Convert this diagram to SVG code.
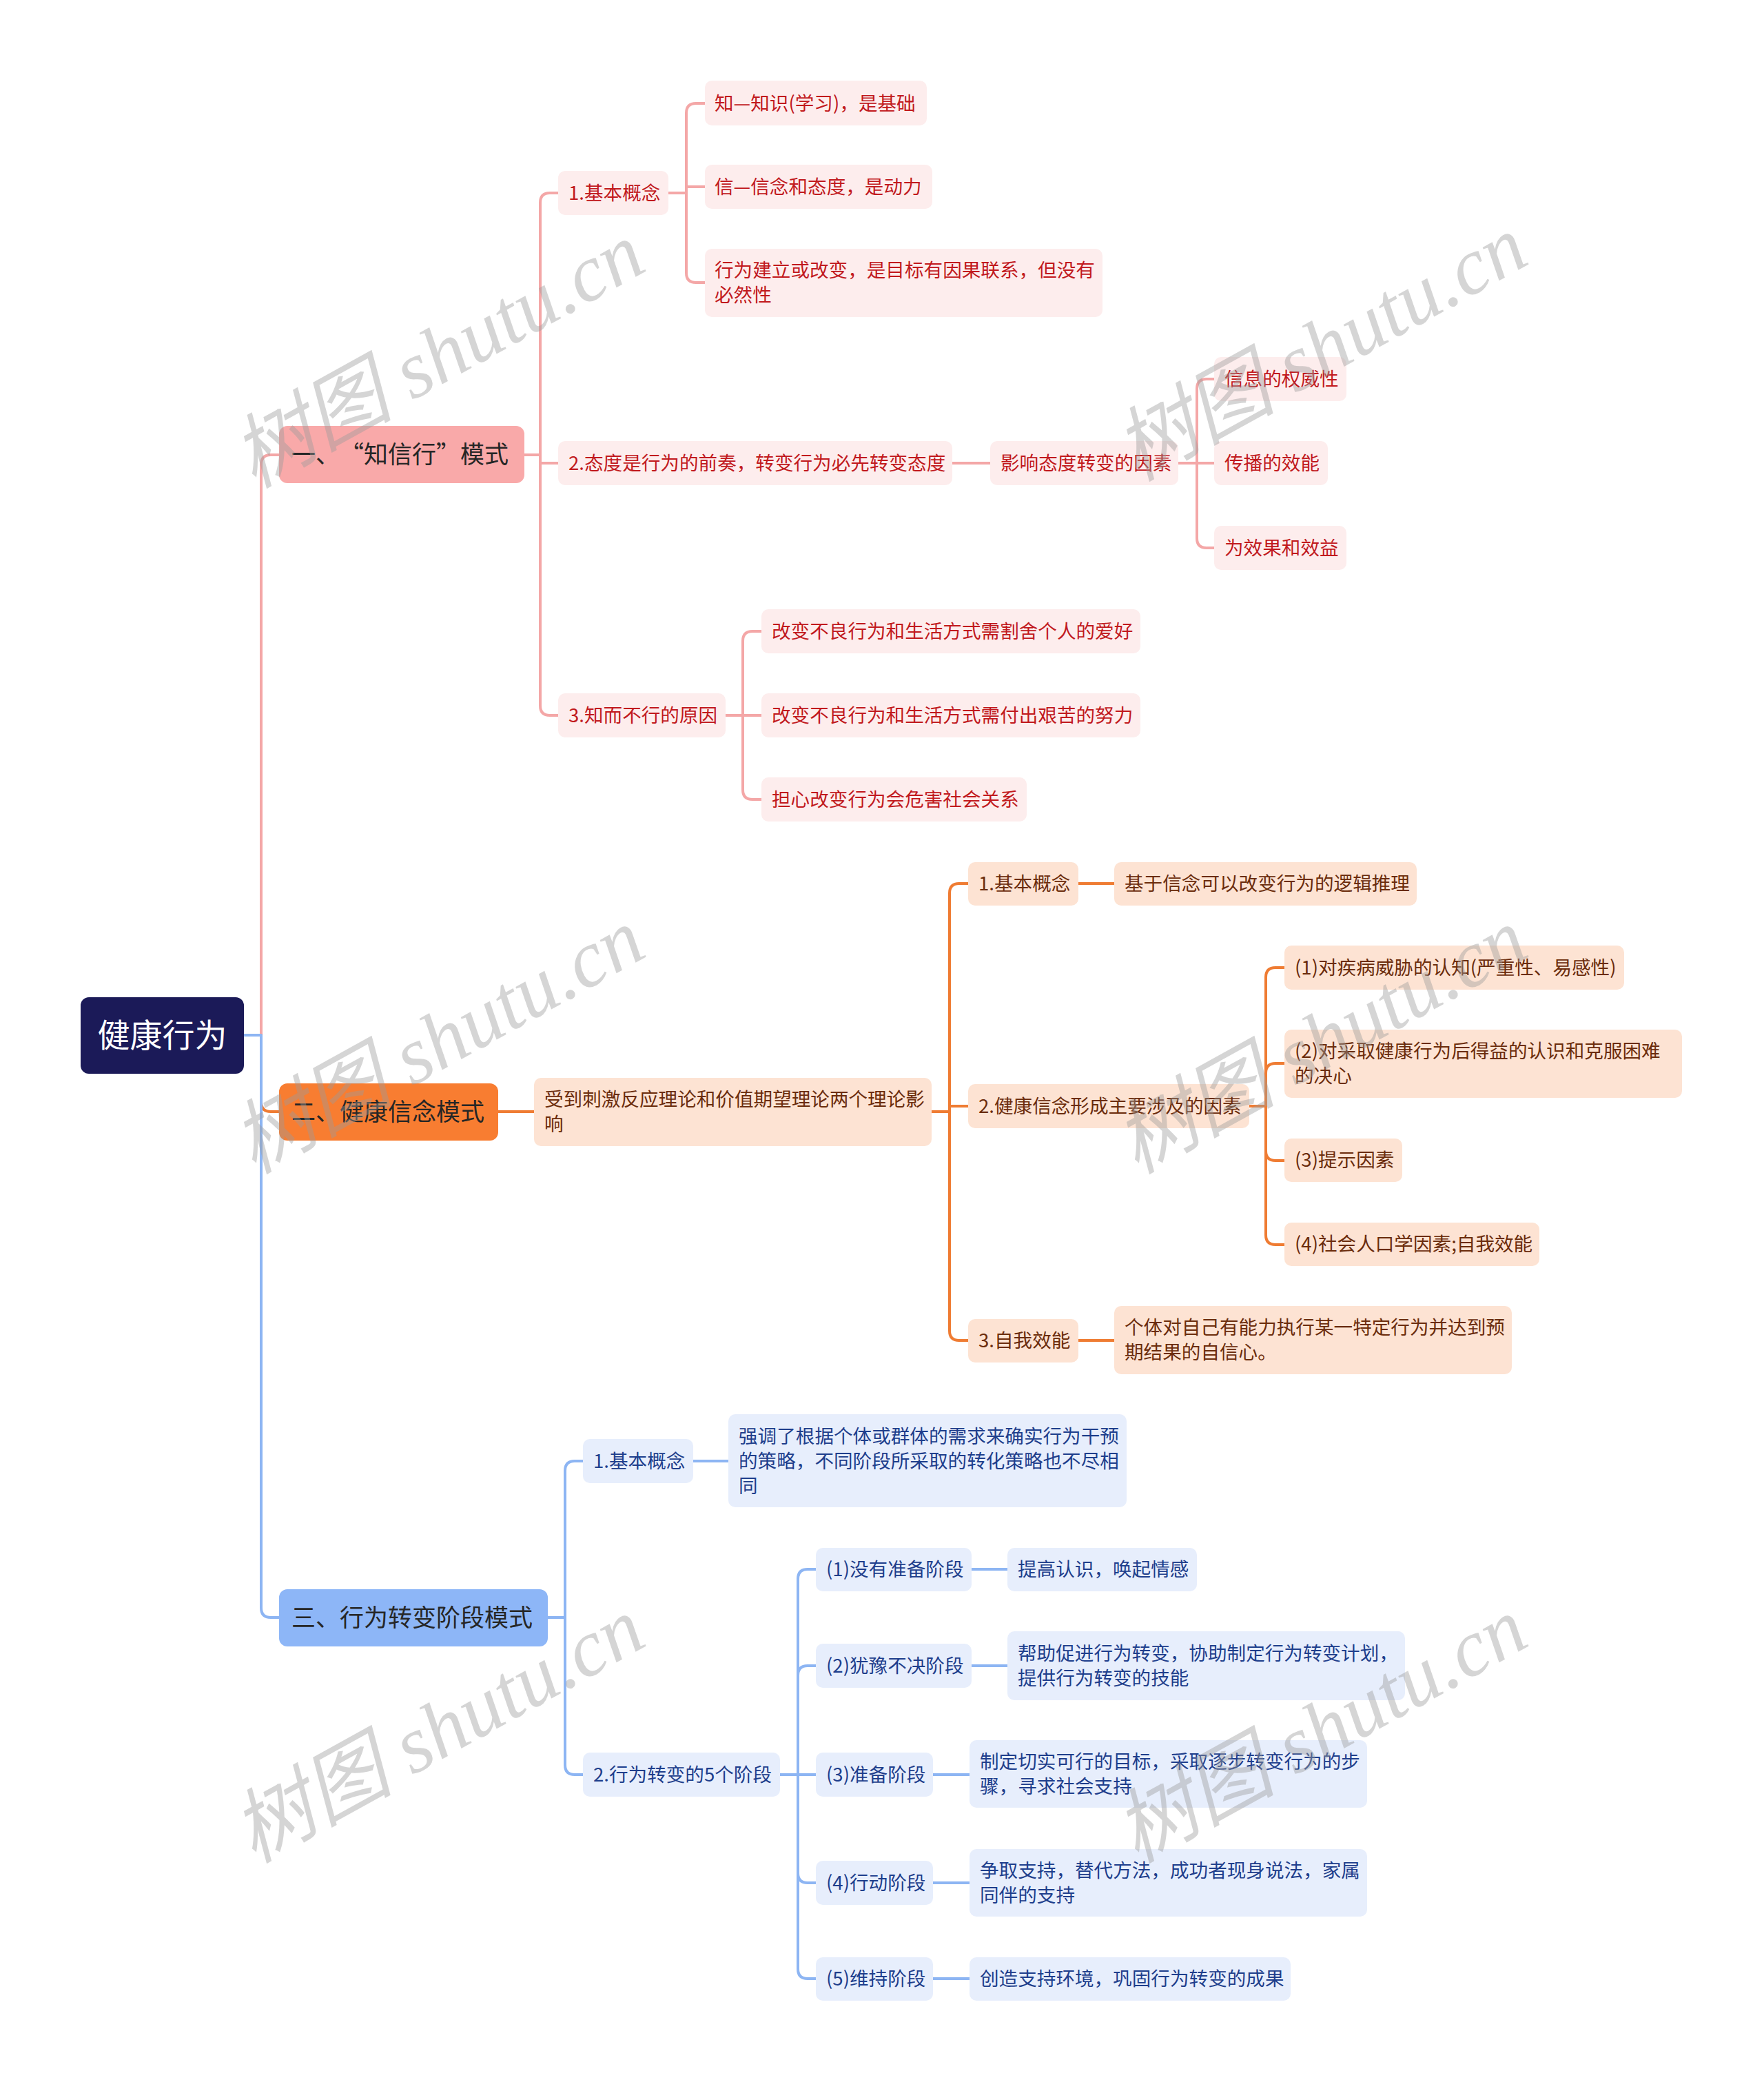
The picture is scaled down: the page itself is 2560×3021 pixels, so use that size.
<svg xmlns="http://www.w3.org/2000/svg" width="2560" height="3021" viewBox="0 0 2560 3021">
<style>
text{font-family:"Noto Sans CJK SC","Noto Sans",sans-serif;}
.t{font-size:27.6px;}
.l1{font-size:35px;fill:#262626;}
.root{font-size:47px;fill:#ffffff;}
.pk rect{fill:#fdeded;}
.pk text{fill:#c1191d;}
.or rect{fill:#fde3d3;}
.or text{fill:#6b2c0c;}
.bl rect{fill:#e7eefc;}
.bl text{fill:#1e3e8c;}
.c{fill:none;stroke-width:4;stroke-linecap:round;stroke-linejoin:round;}
.cp{stroke:#f4a7a7;}
.co{stroke:#ef7c33;}
.cb{stroke:#8db5f3;}
.wm{font-family:"Liberation Serif","Noto Sans CJK SC",serif;font-style:italic;font-size:117px;fill:#9a9a9a;fill-opacity:0.42;}
</style>
<rect x="0" y="0" width="2560" height="3021" fill="#ffffff"/>

<g id="connectors">
  <path class="c cp" d="M354,1502 H379 V674 Q379,660 393,660 H405"/>
  <path class="c cp" d="M761,660 H784 V294 Q784,280 798,280 H810"/>
  <path class="c cp" d="M784,660 V672 H810"/>
  <path class="c cp" d="M784,660 V1024 Q784,1038 798,1038 H810"/>
  <path class="c cp" d="M970,280 H996 V164 Q996,150 1010,150 H1023"/>
  <path class="c cp" d="M996,280 V271 H1023"/>
  <path class="c cp" d="M996,280 V396 Q996,410 1010,410 H1023"/>
  <path class="c cp" d="M1382,672 H1437"/>
  <path class="c cp" d="M1710,672 H1737 V564 Q1737,550 1751,550 H1762"/>
  <path class="c cp" d="M1737,672 H1762"/>
  <path class="c cp" d="M1737,672 V781 Q1737,795 1751,795 H1762"/>
  <path class="c cp" d="M1053,1038 H1078 V930 Q1078,916 1092,916 H1105"/>
  <path class="c cp" d="M1078,1038 H1105"/>
  <path class="c cp" d="M1078,1038 V1146 Q1078,1160 1092,1160 H1105"/>
  <path class="c co" d="M379,1502 V1599 Q379,1613 393,1613 H405"/>
  <path class="c co" d="M723,1613 H775"/>
  <path class="c co" d="M1352,1613 H1378 V1296 Q1378,1282 1392,1282 H1405"/>
  <path class="c co" d="M1378,1613 V1605 H1405"/>
  <path class="c co" d="M1378,1613 V1931 Q1378,1945 1392,1945 H1405"/>
  <path class="c co" d="M1565,1282 H1617"/>
  <path class="c co" d="M1565,1945 H1617"/>
  <path class="c co" d="M1813,1605 H1837 V1418 Q1837,1404 1851,1404 H1864"/>
  <path class="c co" d="M1837,1605 V1557 Q1837,1543 1851,1543 H1864"/>
  <path class="c co" d="M1837,1605 V1670 Q1837,1684 1851,1684 H1864"/>
  <path class="c co" d="M1837,1605 V1792 Q1837,1806 1851,1806 H1864"/>
  <path class="c cb" d="M354,1502 H379 V2333 Q379,2347 393,2347 H405"/>
  <path class="c cb" d="M795,2347 H820 V2134 Q820,2120 834,2120 H846"/>
  <path class="c cb" d="M820,2347 V2561 Q820,2575 834,2575 H846"/>
  <path class="c cb" d="M1006,2120 H1057"/>
  <path class="c cb" d="M1132,2575 H1158 V2291 Q1158,2277 1172,2277 H1184"/>
  <path class="c cb" d="M1158,2575 V2431 Q1158,2417 1172,2417 H1184"/>
  <path class="c cb" d="M1158,2575 H1184"/>
  <path class="c cb" d="M1158,2575 V2718 Q1158,2732 1172,2732 H1184"/>
  <path class="c cb" d="M1158,2575 V2857 Q1158,2871 1172,2871 H1184"/>
  <path class="c cb" d="M1410,2277 H1462"/>
  <path class="c cb" d="M1410,2417 H1462"/>
  <path class="c cb" d="M1354,2575 H1407"/>
  <path class="c cb" d="M1354,2732 H1407"/>
  <path class="c cb" d="M1354,2871 H1407"/>
</g>

<g id="root">
  <rect x="117" y="1447" width="237" height="111" rx="12" fill="#1b1a58"/>
  <text class="root" x="235.5" y="1519" text-anchor="middle">健康行为</text>
</g>

<g id="n1">
  <rect x="405" y="618" width="356" height="83" rx="12" fill="#f9a9a9"/>
  <text class="l1" y="672"><tspan x="423">一、</tspan><tspan x="493">“</tspan><tspan x="528">知信行</tspan><tspan x="633">”</tspan><tspan x="668">模式</tspan></text>
</g>
<g class="pk">
  <g id="p1"><rect x="810" y="248" width="160" height="64" rx="10"/><text class="t" x="825" y="290">1.基本概念</text></g>
  <g id="p1a"><rect x="1023" y="117" width="322" height="65" rx="10"/><text class="t" x="1037" y="160">知—知识(学习)，是基础</text></g>
  <g id="p1b"><rect x="1023" y="239" width="330" height="64" rx="10"/><text class="t" x="1037" y="281">信—信念和态度，是动力</text></g>
  <g id="p1c"><rect x="1023" y="361" width="577" height="99" rx="10"/><text class="t" x="1037" y="402">行为建立或改变，是目标有因果联系，但没有</text><text class="t" x="1037" y="438">必然性</text></g>
  <g id="p2"><rect x="810" y="640" width="572" height="64" rx="10"/><text class="t" x="825" y="682">2.态度是行为的前奏，转变行为必先转变态度</text></g>
  <g id="p2a"><rect x="1437" y="640" width="273" height="64" rx="10"/><text class="t" x="1452" y="682">影响态度转变的因素</text></g>
  <g id="p2a1"><rect x="1762" y="518" width="192" height="64" rx="10"/><text class="t" x="1777" y="560">信息的权威性</text></g>
  <g id="p2a2"><rect x="1762" y="640" width="165" height="64" rx="10"/><text class="t" x="1777" y="682">传播的效能</text></g>
  <g id="p2a3"><rect x="1762" y="763" width="192" height="64" rx="10"/><text class="t" x="1777" y="805">为效果和效益</text></g>
  <g id="p3"><rect x="810" y="1006" width="243" height="64" rx="10"/><text class="t" x="825" y="1048">3.知而不行的原因</text></g>
  <g id="p3a"><rect x="1105" y="884" width="550" height="64" rx="10"/><text class="t" x="1120" y="926">改变不良行为和生活方式需割舍个人的爱好</text></g>
  <g id="p3b"><rect x="1105" y="1006" width="550" height="64" rx="10"/><text class="t" x="1120" y="1048">改变不良行为和生活方式需付出艰苦的努力</text></g>
  <g id="p3c"><rect x="1105" y="1128" width="385" height="64" rx="10"/><text class="t" x="1120" y="1170">担心改变行为会危害社会关系</text></g>
</g>

<g id="n2">
  <rect x="405" y="1572" width="318" height="83" rx="12" fill="#f87d31"/>
  <text class="l1" x="423" y="1626">二、健康信念模式</text>
</g>
<g class="or">
  <g id="q1"><rect x="775" y="1564" width="577" height="99" rx="10"/><text class="t" x="790" y="1605">受到刺激反应理论和价值期望理论两个理论影</text><text class="t" x="790" y="1641">响</text></g>
  <g id="q1a"><rect x="1405" y="1251" width="160" height="63" rx="10"/><text class="t" x="1420" y="1292">1.基本概念</text></g>
  <g id="q1a1"><rect x="1617" y="1251" width="439" height="63" rx="10"/><text class="t" x="1632" y="1292">基于信念可以改变行为的逻辑推理</text></g>
  <g id="q1b"><rect x="1405" y="1573" width="408" height="64" rx="10"/><text class="t" x="1420" y="1615">2.健康信念形成主要涉及的因素</text></g>
  <g id="q1b1"><rect x="1864" y="1372" width="493" height="64" rx="10"/><text class="t" x="1879" y="1414">(1)对疾病威胁的认知(严重性、易感性)</text></g>
  <g id="q1b2"><rect x="1864" y="1494" width="577" height="99" rx="10"/><text class="t" x="1879" y="1535">(2)对采取健康行为后得益的认识和克服困难</text><text class="t" x="1879" y="1571">的决心</text></g>
  <g id="q1b3"><rect x="1864" y="1652" width="171" height="63" rx="10"/><text class="t" x="1879" y="1693">(3)提示因素</text></g>
  <g id="q1b4"><rect x="1864" y="1774" width="370" height="63" rx="10"/><text class="t" x="1879" y="1815">(4)社会人口学因素;自我效能</text></g>
  <g id="q1c"><rect x="1405" y="1914" width="160" height="63" rx="10"/><text class="t" x="1420" y="1955">3.自我效能</text></g>
  <g id="q1c1"><rect x="1617" y="1895" width="577" height="99" rx="10"/><text class="t" x="1632" y="1936">个体对自己有能力执行某一特定行为并达到预</text><text class="t" x="1632" y="1972">期结果的自信心。</text></g>
</g>

<g id="n3">
  <rect x="405" y="2306" width="390" height="83" rx="12" fill="#8db6f7"/>
  <text class="l1" x="423" y="2360">三、行为转变阶段模式</text>
</g>
<g class="bl">
  <g id="r1"><rect x="846" y="2088" width="160" height="64" rx="10"/><text class="t" x="861" y="2130">1.基本概念</text></g>
  <g id="r1a"><rect x="1057" y="2052" width="578" height="135" rx="10"/><text class="t" x="1072" y="2094">强调了根据个体或群体的需求来确实行为干预</text><text class="t" x="1072" y="2130">的策略，不同阶段所采取的转化策略也不尽相</text><text class="t" x="1072" y="2166">同</text></g>
  <g id="r2"><rect x="846" y="2543" width="286" height="64" rx="10"/><text class="t" x="861" y="2585">2.行为转变的5个阶段</text></g>
  <g id="s1"><rect x="1184" y="2246" width="226" height="63" rx="10"/><text class="t" x="1199" y="2287">(1)没有准备阶段</text></g>
  <g id="s1a"><rect x="1462" y="2246" width="275" height="63" rx="10"/><text class="t" x="1477" y="2287">提高认识，唤起情感</text></g>
  <g id="s2"><rect x="1184" y="2385" width="226" height="64" rx="10"/><text class="t" x="1199" y="2427">(2)犹豫不决阶段</text></g>
  <g id="s2a"><rect x="1462" y="2367" width="577" height="100" rx="10"/><text class="t" x="1477" y="2409">帮助促进行为转变，协助制定行为转变计划，</text><text class="t" x="1477" y="2445">提供行为转变的技能</text></g>
  <g id="s3"><rect x="1184" y="2543" width="170" height="64" rx="10"/><text class="t" x="1199" y="2585">(3)准备阶段</text></g>
  <g id="s3a"><rect x="1407" y="2525" width="577" height="98" rx="10"/><text class="t" x="1422" y="2566">制定切实可行的目标，采取逐步转变行为的步</text><text class="t" x="1422" y="2602">骤，寻求社会支持</text></g>
  <g id="s4"><rect x="1184" y="2700" width="170" height="64" rx="10"/><text class="t" x="1199" y="2742">(4)行动阶段</text></g>
  <g id="s4a"><rect x="1407" y="2683" width="577" height="98" rx="10"/><text class="t" x="1422" y="2724">争取支持，替代方法，成功者现身说法，家属</text><text class="t" x="1422" y="2760">同伴的支持</text></g>
  <g id="s5"><rect x="1184" y="2840" width="170" height="63" rx="10"/><text class="t" x="1199" y="2881">(5)维持阶段</text></g>
  <g id="s5a"><rect x="1407" y="2840" width="466" height="63" rx="10"/><text class="t" x="1422" y="2881">创造支持环境，巩固行为转变的成果</text></g>
</g>

<g id="watermarks">
  <text class="wm" text-anchor="middle" transform="translate(655,550) rotate(-29)">树图 shutu.cn</text>
  <text class="wm" text-anchor="middle" transform="translate(1936,540) rotate(-29)">树图 shutu.cn</text>
  <text class="wm" text-anchor="middle" transform="translate(655,1545) rotate(-29)">树图 shutu.cn</text>
  <text class="wm" text-anchor="middle" transform="translate(1936,1545) rotate(-29)">树图 shutu.cn</text>
  <text class="wm" text-anchor="middle" transform="translate(655,2545) rotate(-29)">树图 shutu.cn</text>
  <text class="wm" text-anchor="middle" transform="translate(1936,2545) rotate(-29)">树图 shutu.cn</text>
</g>
</svg>
